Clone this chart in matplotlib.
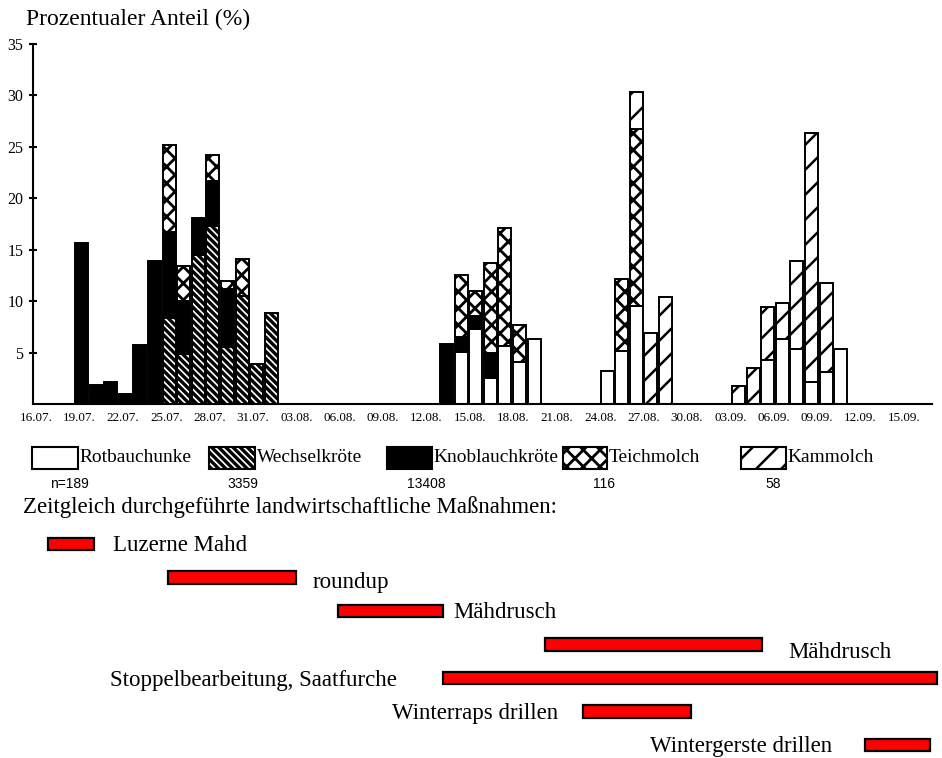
import numpy as np
import matplotlib
matplotlib.use("Agg")
import matplotlib.pyplot as plt
from matplotlib.patches import Rectangle

W, H, DPI = 942, 758, 150
K = 100.0 / DPI          # keeps sizes calibrated in "points at 100 dpi"

plt.rcParams['font.family'] = ['Liberation Serif', 'DejaVu Serif']

# ---------------- data ----------------
date_labels = ["16.07.", "19.07.", "22.07.", "25.07.", "28.07.", "31.07.", "03.08.",
               "06.08.", "09.08.", "12.08.", "15.08.", "18.08.", "21.08.", "24.08.",
               "27.08.", "30.08.", "03.09.", "06.09.", "09.09.", "12.09.", "15.09."]

bar_pos = [0, 1, 2, 3, 4, 5, 6, 7, 8, 9, 10, 11, 12, 13,
           25, 26, 27, 28, 29, 30, 31,
           36, 37, 38, 39, 40,
           45, 46, 47, 48, 49, 50, 51, 52]

rotbauchunke = [0, 0, 0, 0, 0, 0, 0, 0, 0, 0, 0, 0, 0, 0,
                0, 5.1, 7.3, 2.5, 5.6, 4.1, 6.3,
                3.2, 5.2, 9.5, 0, 0,
                0, 0, 4.3, 6.3, 5.3, 2.1, 3.1, 5.3]
wechselkroete = [0, 0, 0, 0, 0, 0, 8.4, 4.9, 14.5, 17.3, 5.5, 10.5, 3.9, 8.8,
                 0, 0, 0, 0, 0, 0, 0,
                 0, 0, 0, 0, 0,
                 0, 0, 0, 0, 0, 0, 0, 0]
knoblauchkroete = [15.7, 1.8, 2.1, 1.0, 5.7, 13.9, 8.3, 5.1, 3.6, 4.4, 5.7, 0, 0, 0,
                   5.8, 1.4, 1.3, 2.5, 0, 0, 0,
                   0, 0, 0, 0, 0,
                   0, 0, 0, 0, 0, 0, 0, 0]
teichmolch = [0, 0, 0, 0, 0, 0, 8.5, 3.4, 0, 2.5, 0.8, 3.6, 0, 0,
              0, 6.0, 2.4, 8.7, 11.5, 3.6, 0,
              0, 7.0, 17.2, 0, 0,
              0, 0, 0, 0, 0, 0, 0, 0]
kammolch = [0, 0, 0, 0, 0, 0, 0, 0, 0, 0, 0, 0, 0, 0,
            0, 0, 0, 0, 0, 0, 0,
            0, 0, 3.6, 6.9, 10.4,
            1.75, 3.5, 5.1, 3.55, 8.65, 24.2, 8.7, 0]

species = ["Rotbauchunke", "Wechselkröte", "Knoblauchkröte", "Teichmolch", "Kammolch"]
species_n = ["n=189", "3359", "13408", "116", "58"]

tasks = ["Luzerne Mahd", "roundup", "Mähdrusch", "Mähdrusch",
         "Stoppelbearbeitung, Saatfurche", "Winterraps drillen", "Wintergerste drillen"]
task_start = [0.8, 9.1, 20.9, 35.2, 28.1, 37.8, 57.3]   # days after 16.07.
task_end = [4.0, 18.0, 28.1, 50.2, 62.3, 45.3, 61.8]

# ---------------- styles ----------------
styles = [dict(facecolor="white", hatch=None, hlw=1.0),
          dict(facecolor="white", hatch="\\" * 7, hlw=1.6),
          dict(facecolor="black", hatch=None, hlw=1.0),
          dict(facecolor="white", hatch="xxx", hlw=1.35),
          dict(facecolor="white", hatch="//", hlw=1.2)]


def add_hatched(make, st):
    with plt.rc_context({"hatch.linewidth": st["hlw"]}):
        art = make()
    patches = art.patches if hasattr(art, "patches") else [art]
    for p in patches:
        if hasattr(p, "set_hatch_linewidth"):
            p.set_hatch_linewidth(st["hlw"])
    return art


fig = plt.figure(figsize=(W / DPI, H / DPI), dpi=DPI)

# ---------------- main bar chart ----------------
ax = fig.add_axes([33 / W, 1 - 404 / H, (932 - 33) / W, (404 - 44) / H])
px0, pstep = 81.5, 14.6
ax.set_xlim((33 - px0) / pstep, (932 - px0) / pstep)
ax.set_ylim(0, 35)

series = [rotbauchunke, wechselkroete, knoblauchkroete, teichmolch, kammolch]
bottom = np.zeros(len(bar_pos))
pos = np.array(bar_pos, dtype=float)
for vals, st in zip(series, styles):
    v = np.array(vals, dtype=float)
    m = v > 0
    add_hatched(lambda: ax.bar(pos[m], v[m], bottom=bottom[m], width=0.88,
                               facecolor=st["facecolor"], edgecolor="black",
                               linewidth=1.4 * K, hatch=st["hatch"], zorder=2), st)
    bottom = bottom + v

for s in ["top", "right"]:
    ax.spines[s].set_visible(False)
for s in ["left", "bottom"]:
    ax.spines[s].set_linewidth(1.5 * K)

ax.set_yticks([5, 10, 15, 20, 25, 30, 35])
ax.set_yticklabels(["5", "10", "15", "20", "25", "30", "35"])
ax.tick_params(axis="y", direction="inout", length=6 * K, width=1.5 * K,
               labelsize=11.5 * K, pad=4 * K)

tick_first = (36 - px0) / pstep
tick_last = (904 - px0) / pstep
ax.set_xticks(np.linspace(tick_first, tick_last, len(date_labels)))
ax.set_xticklabels(date_labels)
ax.tick_params(axis="x", length=0, labelsize=9.5 * K, pad=5.5 * K)

fig.text(26 / W, 1 - 19 / H, "Prozentualer Anteil (%)", fontsize=17 * K, va="center", ha="left")

# ---------------- legend (overlay in pixel coordinates) ----------------
lay = fig.add_axes([0, 0, 1, 1], zorder=-1)
lay.set_xlim(0, W)
lay.set_ylim(H, 0)
lay.axis("off")

box_x = [(32, 78), (209, 255), (387, 432), (563, 607), (741, 786)]
n_x = [69, 243, 426, 604, 773]
for (x0, x1), st, name, nx, nn in zip(box_x, styles, species, n_x, species_n):
    add_hatched(lambda: lay.add_patch(Rectangle((x0, 447), x1 - x0, 22,
                                                facecolor=st["facecolor"], edgecolor="black",
                                                linewidth=1.5 * K, hatch=st["hatch"])), st)
    lay.text(x1 + 2, 458, name, fontsize=14 * K, va="center", ha="left")
    lay.text(nx, 484, nn, fontsize=10 * K, va="center", ha="center",
             family=["Liberation Sans Narrow", "Liberation Sans", "DejaVu Sans"])

lay.text(23, 507, "Zeitgleich durchgeführte landwirtschaftliche Maßnahmen:",
         fontsize=16.5 * K, va="center", ha="left")

# ---------------- gantt of agricultural measures ----------------
gx = fig.add_axes([0, 0, 1, 238 / H])
gx.axis("off")
gpx0, gstep = 36, 14.47
gx.set_xlim((0 - gpx0) / gstep, (W - gpx0) / gstep)
row0, rstep = 544, 33.5
gx.set_ylim((758 - row0) / rstep, (520 - row0) / rstep)
rows = np.arange(len(tasks))
s = np.array(task_start)
e = np.array(task_end)
gx.barh(rows, e - s, left=s, height=0.36, color="#ff0000", edgecolor="black",
        linewidth=1.6 * K)

label_x = [5.32, 19.14, 28.82, 51.97, 24.95, 36.07, 55.0]
label_ha = ["left", "left", "left", "left", "right", "right", "right"]
label_dy = [0.05, 0.15, 0.05, 0.25, 0.08, 0.05, 0.05]
for r, t, lx, ha, dy in zip(rows, tasks, label_x, label_ha, label_dy):
    gx.text(lx, r + dy, t, fontsize=16.5 * K, va="center", ha=ha)

fig.savefig("out.png", dpi=DPI)
